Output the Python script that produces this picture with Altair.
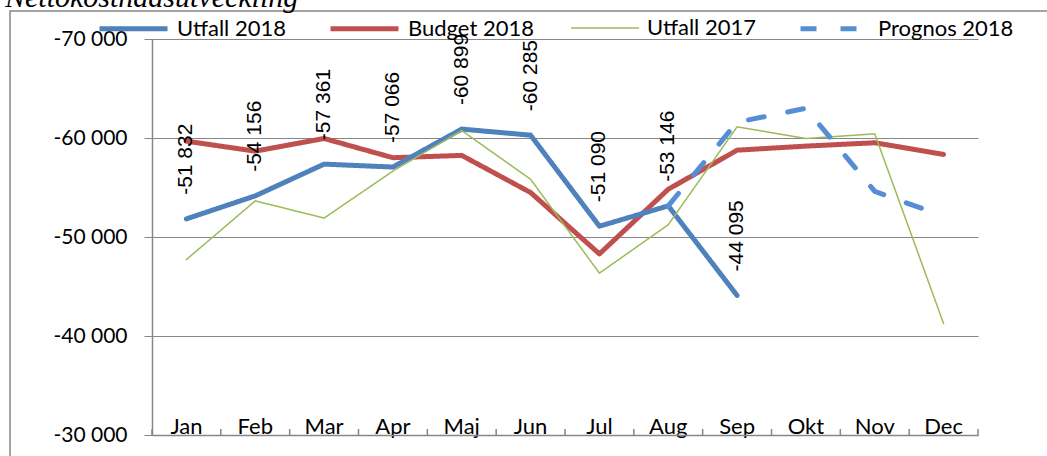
import altair as alt
import pandas as pd

months = ["Jan", "Feb", "Mar", "Apr", "Maj", "Jun", "Jul", "Aug", "Sep", "Okt", "Nov", "Dec"]
utfall_2018 = [-51832, -54156, -57361, -57066, -60899, -60285, -51090, -53146, -44095, None, None, None]
budget_2018 = [-59680, -58670, -59950, -58010, -58240, -54490, -48290, -54820, -58770, -59180, -59520, -58340]
utfall_2017 = [-47720, -53650, -51910, -56660, -60750, -55830, -46350, -51240, -61130, -59950, -60420, -41260]
prognos_2018 = [None, None, None, None, None, None, None, -53146, -61600, -63000, -54600, -52100]

series_names = ["Utfall 2018", "Budget 2018", "Utfall 2017", "Prognos 2018"]
series_values = [utfall_2018, budget_2018, utfall_2017, prognos_2018]
colors = ["#4F81BD", "#C0504D", "#9BBB59", "#558ED5"]
widths = [5, 5, 1.5, 5]
dashes = [[1, 0], [1, 0], [1, 0], [16, 24]]
y_ticks = [-70000, -60000, -50000, -40000, -30000]
title_text = "Nettokostnadsutveckling"


def fmt(v):
    s = f"{abs(int(v)):,}".replace(",", " ")
    return "-" + s if v < 0 else s


rows = []
for name, vals in zip(series_names, series_values):
    for i, (m, v) in enumerate(zip(months, vals)):
        if v is not None:
            rows.append({"month": m, "series": name, "value": v,
                         "label": fmt(v)})
df = pd.DataFrame(rows)
df_months = pd.DataFrame({"month": months})

W, H = 826, 396
PL, PT = 152, 39

x_scale = alt.Scale(type="band", domain=months, paddingInner=0, paddingOuter=0)
x_axis = alt.Axis(orient="top", offset=-H, title=None, labelAngle=0,
                  ticks=False, labelPadding=2, bandPosition=0.5,
                  labelBaseline="alphabetic", labelFont="Lato",
                  labelFontSize=22, labelColor="#000000",
                  domainColor="#868686", domainWidth=1.5, grid=False)
x_enc = alt.X("month:N", sort=months, bandPosition=0.5, scale=x_scale, axis=x_axis)
y_enc = alt.Y("value:Q",
              scale=alt.Scale(domain=[-70000, -30000], reverse=True, nice=False),
              axis=alt.Axis(values=y_ticks, title=None, tickSize=8,
                            labelPadding=17, labelFont="Lato", labelFontSize=21,
                            labelColor="#000000", grid=True,
                            gridColor="#868686", domainColor="#868686",
                            tickColor="#868686", domainWidth=1.5,
                            labelExpr="(datum.value < 0 ? '-' : '') + replace(format(abs(datum.value), ','), ',', ' ')"))

color_enc = alt.Color("series:N", scale=alt.Scale(domain=series_names, range=colors),
                      legend=alt.Legend(title=None, orient="none", legendX=-55,
                                        legendY=-47, direction="horizontal",
                                        symbolType="stroke", symbolSize=4624,
                                        labelFont="Lato", labelFontSize=22,
                                        labelColor="#000000", labelOffset=7,
                                        columnPadding=34, labelLimit=300))
width_enc = alt.StrokeWidth("series:N",
                            scale=alt.Scale(type="ordinal", domain=series_names, range=widths),
                            legend=alt.Legend(title=None))
dash_enc = alt.StrokeDash("series:N", scale=alt.Scale(domain=series_names, range=dashes),
                          legend=alt.Legend(title=None))

base = alt.Chart(df)

order = ["Budget 2018", "Utfall 2018", "Utfall 2017", "Prognos 2018"]
line_layers = []
for name in order:
    line_layers.append(
        base.transform_filter(alt.datum.series == name)
        .mark_line(strokeCap="round", strokeJoin="round")
        .encode(x=x_enc, y=y_enc, color=color_enc, strokeWidth=width_enc,
                strokeDash=dash_enc)
    )

labels = (base.transform_filter(alt.datum.series == "Utfall 2018")
          .mark_text(angle=270, align="left", baseline="middle", dx=24,
                     font="Liberation Sans", fontSize=21, color="#000000")
          .encode(x=x_enc, y=y_enc, text="label:N"))

# category tick marks (pointing up from the axis line, at band boundaries)
tick_start = alt.Chart(df_months).mark_rule(color="#868686", strokeWidth=1.5).encode(
    x=alt.X("month:N", sort=months, bandPosition=0, scale=x_scale, axis=x_axis),
    y=alt.value(H - 6), y2=alt.value(H))
tick_end = alt.Chart(df_months).transform_filter(alt.datum.month == months[-1]).mark_rule(
    color="#868686", strokeWidth=1.5).encode(
    x=alt.X("month:N", sort=months, bandPosition=1, scale=x_scale, axis=x_axis),
    y=alt.value(H - 6), y2=alt.value(H))

extra = alt.Chart(pd.DataFrame({"t": [title_text]}))
border = extra.mark_rect(fillOpacity=0, stroke="#868686", strokeWidth=1.5).encode(
    x=alt.value(10 - PL), x2=alt.value(1047 - PL + 20),
    y=alt.value(11 - PT), y2=alt.value(456 - PT + 20))
title = extra.mark_text(align="left", baseline="alphabetic", font="Liberation Serif",
                        fontStyle="italic", fontSize=30, color="#000000").encode(
    x=alt.value(5 - PL), y=alt.value(6.5 - PT), text="t:N")

chart = alt.layer(border, title, tick_start, tick_end, *line_layers, labels).properties(
    width=W, height=H,
    autosize=alt.AutoSizeParams(type="none"),
    padding={"left": PL, "top": PT, "right": 1047 - PL - W, "bottom": 456 - PT - H},
    background="#FFFFFF",
).configure_view(stroke=None)

chart.save("out.html", embed_options={"renderer": "svg", "actions": False})
